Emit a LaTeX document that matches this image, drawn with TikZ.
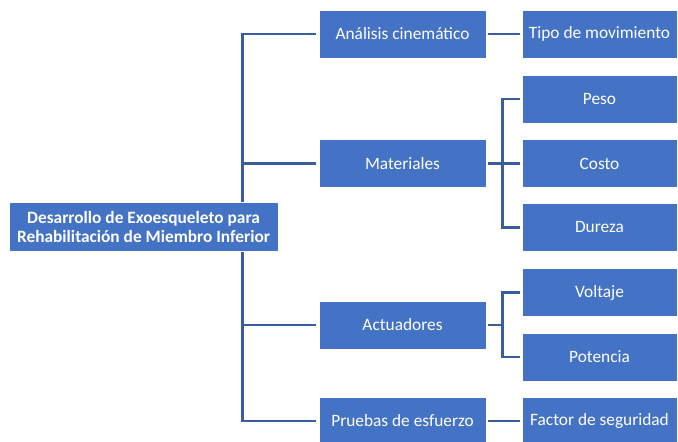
\documentclass[tikz,border=0pt]{standalone}
\usepackage{fontspec}
\setmainfont{Carlito}
\usepackage{tikz}
\usetikzlibrary{backgrounds}
\definecolor{boxblue}{HTML}{4472C4}
\definecolor{lineblue}{HTML}{3A5DA0}

\begin{document}
\begin{tikzpicture}[x=0.75pt,y=-0.75pt,
  every node/.style={draw=white,line width=0.6pt,fill=boxblue,text=white,inner sep=0pt,minimum height=36pt,font=\fontsize{13}{14.25}\selectfont},
  lvltwo/.style={minimum width=125.25pt},
  lvlthree/.style={minimum width=116.25pt},
  link/.style={lineblue,line width=1.8pt}]
  \useasboundingbox (0,0) rectangle (678,442);
  \clip (0,0) rectangle (678,442);
  \node (root) at (143.5,226.5)[minimum width=201.75pt,minimum height=36.75pt,align=center,font=\fontsize{13}{14.25}\selectfont\bfseries]{Desarrollo de Exoesqueleto para\\Rehabilitación de Miembro Inferior};
  \node (ana) at (402.5,34)[lvltwo]{Análisis cinemático};
  \node (mat) at (402.5,163.5)[lvltwo]{Materiales};
  \node (act) at (402.5,325)[lvltwo]{Actuadores};
  \node (pru) at (402.5,421)[lvltwo]{Pruebas de esfuerzo};
  \node (tipo) at (599.5,34)[lvlthree]{Tipo de movimiento};
  \node (peso) at (599.5,99)[lvlthree]{Peso};
  \node (cos) at (599.5,163.5)[lvlthree]{Costo};
  \node (dur) at (599.5,227.5)[lvlthree]{Dureza};
  \node (vol) at (599.5,292.5)[lvlthree]{Voltaje};
  \node (pot) at (599.5,357)[lvlthree]{Potencia};
  \node (fac) at (599.5,421)[lvlthree]{Factor de seguridad};

  \begin{scope}[on background layer]
  \draw[link]([xshift=-2.25pt]ana.west)--++(-73,0)|-([xshift=-2.25pt]pru.west);
  \draw[link]([xshift=-2.25pt]mat.west)--++(-73,0);
  \draw[link]([xshift=-2.25pt]act.west)--++(-73,0);
  \draw[link]([xshift=1.5pt]ana.east)--([xshift=-1.5pt]tipo.west);
  \draw[link]([xshift=1.5pt]mat.east)--([xshift=-1.5pt]cos.west);
  \draw[link]([xshift=-1.5pt]peso.west)--++(-17,0)|-([xshift=-1.5pt]dur.west);
  \draw[link]([xshift=1.5pt]act.east)--++(15,0);
  \draw[link]([xshift=-1.5pt]vol.west)--++(-17,0)|-([xshift=-1.5pt]pot.west);
  \draw[link]([xshift=1.5pt]pru.east)--([xshift=-1.5pt]fac.west);
  \end{scope}
\end{tikzpicture}
\end{document}
